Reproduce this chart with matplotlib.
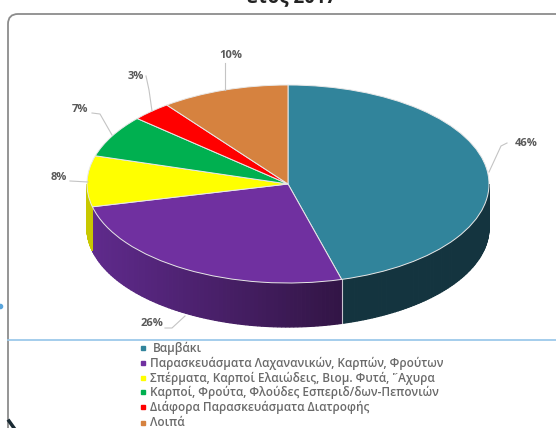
import numpy as np
import matplotlib
matplotlib.use("Agg")
import matplotlib.pyplot as plt
from matplotlib.patches import FancyBboxPatch

plt.rcParams['font.family'] = ['Open Sans', 'DejaVu Sans']

categories = [
    'Βαμβάκι',
    'Παρασκευάσματα Λαχανανικών, Καρπών, Φρούτων',
    'Σπέρματα, Καρποί Ελαιώδεις, Βιομ. Φυτά, ῎Αχυρα',
    'Καρποί, Φρούτα, Φλούδες Εσπεριδ/δων-Πεπονιών',
    'Διάφορα Παρασκευάσματα Διατροφής',
    'Λοιπά',
]
values = [45.7, 25.6, 8.3, 6.9, 3.2, 10.3]
labels = ['46%', '26%', '8%', '7%', '3%', '10%']
colors = ['#31849b', '#7030a0', '#ffff00', '#00b050', '#ff0000', '#d6823f']
wall_light = ['#14343f', '#5f2a8c', '#c8c800', '#008040', '#c00000', '#a86030']
wall_dark = ['#14343f', '#321545', '#c8c800', '#008040', '#c00000', '#a86030']

W, H = 556, 428
CX, CY, RX, RY, DEPTH = 288, 184, 201, 99, 44


def px(x):
    return (x - CX) / RX


def py(y):
    return (CY - y) / RY


fig = plt.figure(figsize=(W / 100, H / 100), dpi=100)
ax = fig.add_axes([0, 0, 1, 1])
ax.axis('off')

# chart frame, runs off the right and bottom of the crop
frame = FancyBboxPatch((px(14), py(640)), 900 / RX, 620 / RY,
                       boxstyle='round', mutation_aspect=RX / RY,
                       fc='white', ec='#8c8c8c', lw=1.3, zorder=0)
frame.set_boxstyle('round', pad=6 / RX, rounding_size=10 / RX)
ax.add_patch(frame)

# side wall of the disc, only the front half shows
dy = DEPTH / RY
edges = 90 - 3.6 * np.concatenate([[0], np.cumsum(values)]) * 100 / sum(values)
for i, col in enumerate(colors):
    start, stop = min(edges[i], 0), max(edges[i + 1], -180)
    if start <= stop:
        continue
    n = 80
    ang = np.radians(np.linspace(start, stop, n + 1))
    c0 = np.array(matplotlib.colors.to_rgb(wall_light[i]))
    c1 = np.array(matplotlib.colors.to_rgb(wall_dark[i]))
    xmin, xmax = np.cos(ang).min(), np.cos(ang).max()
    for k in range(n):
        xs = np.cos(ang[k:k + 2])
        ys = np.sin(ang[k:k + 2])
        t = (xs.mean() - xmin) / max(xmax - xmin, 1e-6)
        ax.fill([xs[0], xs[1], xs[1], xs[0]],
                [ys[0], ys[1], ys[1] - dy, ys[0] - dy],
                color=c0 + (c1 - c0) * t, lw=0.9, zorder=1)
    if i == 1:
        # light seam between the teal and purple walls
        ax.plot([np.cos(ang[0])] * 2, [np.sin(ang[0]), np.sin(ang[0]) - dy],
                color='#c9c4cf', lw=0.8, zorder=2)

wedges, _ = ax.pie(values, colors=colors, startangle=90, counterclock=False, radius=1,
                   wedgeprops=dict(ec='#e8e8e8', lw=0.7, zorder=3))
ax.set_aspect('auto')
ax.set_xlim(px(0), px(W))
ax.set_ylim(py(H), py(0))

# data labels with thin grey leaders
label_pos = [(526, 143), (152, 324), (59, 177), (80, 110), (136, 76), (231, 55)]
leaders = [
    [(507, 143), (501, 146), (489, 172)],
    [(165, 328), (172, 328), (185, 316)],
    [(70, 181), (88, 182)],
    [(92, 113), (100, 114), (112, 135)],
    [(146, 76), (149, 90), (152, 111)],
    [(225, 63), (225, 90)],
]
for lab, p, ld in zip(labels, label_pos, leaders):
    ax.plot([px(q[0]) for q in ld], [py(q[1]) for q in ld], color='#c4c4c4', lw=0.8, zorder=4)
    ax.text(px(p[0]), py(p[1]), lab, ha='center', va='center', fontsize=8,
            fontweight='bold', color='#595959', zorder=5)

ax.plot([px(8), px(W)], [py(340), py(340)], color='#9dc9ea', lw=1.3, zorder=5)
ax.plot(px(0), py(306), 'o', ms=3, color='#5aa5dc', zorder=5)
ax.plot([px(9), px(14)], [py(421), py(428)], color='#1a2a33', lw=2.5, zorder=5)

# legend
leg_y = [348, 363, 378, 392, 407, 423]
for i, (name, y) in enumerate(zip(categories, leg_y)):
    ax.plot(px(143), py(y), 's', ms=3.5, color=colors[i], zorder=5)
    xt = 153 if i == 0 else 150
    ax.text(px(xt), py(y), name, ha='left', va='center', fontsize=8.5,
            fontweight=600, color='#6a6a6a', zorder=5)

ax.text(px(292), py(-3), 'έτος 2017', ha='center', va='center', fontsize=13.5,
        fontweight='bold', color='#222222', zorder=5)

fig.savefig('out.png', dpi=100)
